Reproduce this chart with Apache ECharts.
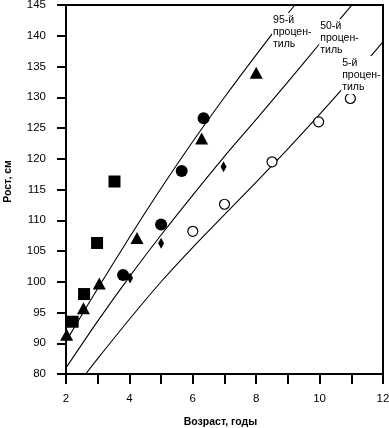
<!DOCTYPE html>
<html><head><meta charset="utf-8">
<script src="https://cdn.jsdelivr.net/npm/echarts@6/dist/echarts.min.js"></script>
<style>html,body{margin:0;padding:0;background:#fff}#c{width:389px;height:428px}</style>
</head><body><div id="c"></div>
<script>
// Axis: visually linear from 85 to 145; bottom tick is labelled "80" (broken axis)
const xMin = 2, xMax = 12, xStep = 1;
const yMin = 85, yMax = 145, yStep = 5;
const yBottomLabel = '80';

// Percentile curves [age, height]
const p95 = [[2,90.3],[3,98.9],[4,107.2],[5,115.2],[6,122.8],[7,130.0],[8,136.9],[9,143.6],[9.22,145]];
const p50 = [[2,86.0],[3,93.6],[4,100.8],[5,107.6],[6,114.1],[7,120.4],[8,126.4],[9,132.5],[10,138.7],[11,144.9],[11.02,145]];
const p5  = [[2.62,85],[3,87.5],[4,93.9],[5,100.0],[6,105.6],[7,110.9],[8,116.2],[9,121.6],[10,127.2],[11,133.0],[12,139.0]];

const curveLabels = ['95-й\nпроцен-\nтиль', '50-й\nпроцен-\nтиль', '5-й\nпроцен-\nтиль'];
const labelAnchors = [[8.5,140.6],[9.99,139.6],[10.68,133.6]];

// Observations
const squares = [[2.21,93.5],[2.57,98.0],[2.98,106.3],[3.53,116.3]];
const triangles = [[2.02,91.4],[2.55,95.7],[3.05,99.7],[4.24,107.1],[6.28,123.3],[8.0,134.0]];
const circles = [[3.8,101.1],[5.0,109.3],[5.65,118.0],[6.34,126.6]];
const diamonds = [[4.02,100.6],[5.0,106.25],[6.97,118.7]];
const openCircles = [[6.0,108.2],[7.0,112.6],[8.5,119.5],[9.97,126.0],[10.97,129.8]];

const FONT = 'Liberation Sans, Arial, sans-serif';
const chart = echarts.init(document.getElementById('c'), null, {renderer:'canvas'});

function curve(data, idx){
  return {
    type:'line', data:data, smooth:0.25, showSymbol:false, symbol:'none',
    lineStyle:{color:'#000', width:1.1, join:'round'}, z:2, silent:true,
    markPoint:{
      symbol:'rect', symbolSize:0, silent:true, z:5,
      data:[{coord:labelAnchors[idx], value:curveLabels[idx]}],
      label:{show:true, position:'right', distance:0, formatter:curveLabels[idx],
        color:'#000', fontFamily:FONT, fontSize:10.5, lineHeight:12, align:'left',
        backgroundColor:'#fff', padding:[1,1,1,1]}
    }
  };
}
function scatter(data, symbol, size, fill){
  return {type:'scatter', data:data, symbol:symbol, symbolSize:size, z:4, silent:true,
    itemStyle:{color:fill||'#000', borderColor:'#000', borderWidth: fill ? 1.2 : 0, opacity:1}};
}

chart.setOption({
  animation:false,
  backgroundColor:'#fff',
  grid:{left:66, right:6, top:5, bottom:54, containLabel:false, outerBoundsMode:'none',
    show:true, borderColor:'#000', borderWidth:2, backgroundColor:'transparent'},
  xAxis:{
    type:'value', min:xMin, max:xMax, interval:xStep,
    name:'Возраст, годы', nameLocation:'middle', nameGap:43,
    nameTextStyle:{fontFamily:FONT, fontSize:10.5, fontWeight:'bold', color:'#000', padding:[0,8,0,0]},
    axisLine:{show:true, onZero:false, lineStyle:{color:'#000', width:2}},
    axisTick:{show:true, inside:false, length:10, lineStyle:{color:'#000', width:2}},
    axisLabel:{margin:19, fontFamily:FONT, fontSize:11.5, color:'#000',
      formatter:function(v){return (Math.round(v)%2===0)?String(v):'';}},
    splitLine:{show:false}
  },
  yAxis:{
    type:'value', min:yMin, max:yMax, interval:yStep,
    name:'Рост, см', nameLocation:'middle', nameGap:52,
    nameTextStyle:{fontFamily:FONT, fontSize:10.5, fontWeight:'bold', color:'#000', padding:[0,0,0,16]},
    axisLine:{show:true, onZero:false, lineStyle:{color:'#000', width:2}},
    axisTick:{show:true, inside:false, length:9, lineStyle:{color:'#000', width:2}},
    axisLabel:{margin:20, fontFamily:FONT, fontSize:11.5, color:'#000',
      formatter:function(v){return v===yMin ? yBottomLabel : String(v);}},
    splitLine:{show:false}
  },
  series:[
    curve(p95,0), curve(p50,1), curve(p5,2),
    scatter(squares,'rect',12),
    scatter(triangles,'triangle',[13,12]),
    scatter(circles,'circle',12),
    scatter(diamonds,'diamond',[6,11]),
    scatter(openCircles,'circle',10,'#fff')
  ]
});
</script></body></html>
